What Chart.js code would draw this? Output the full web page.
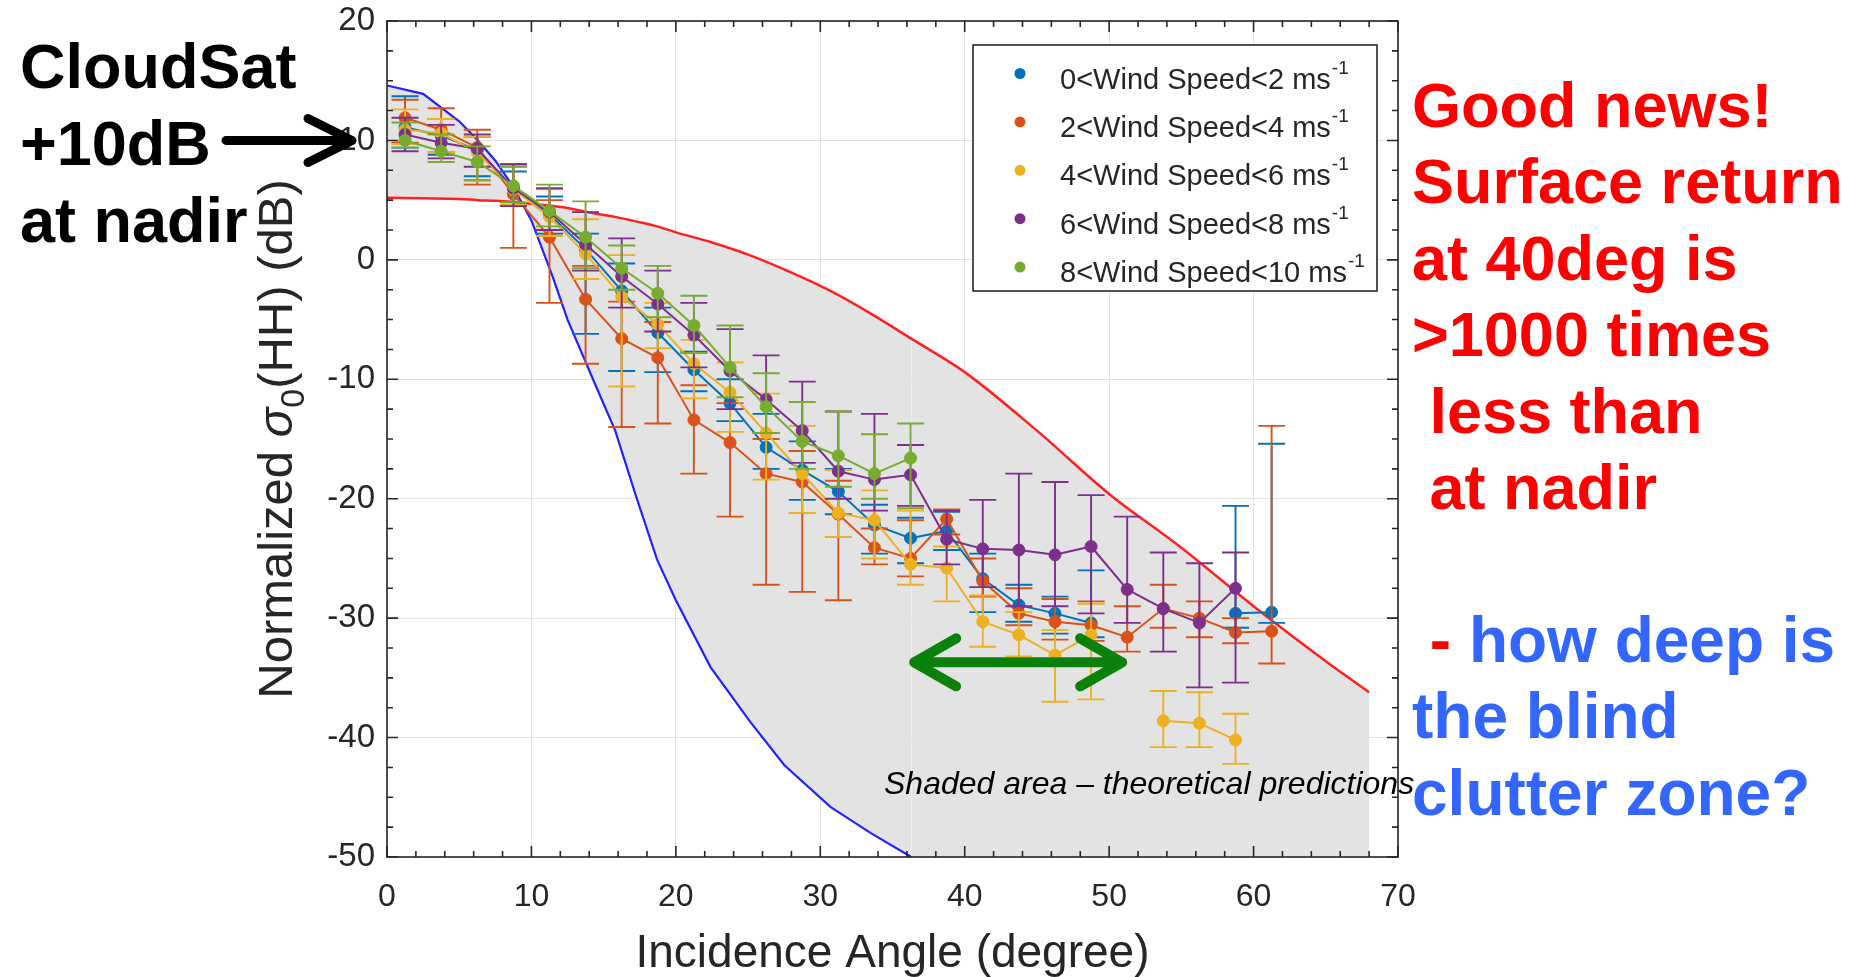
<!DOCTYPE html>
<html>
<head>
<meta charset="utf-8">
<title>Normalized sigma0 (HH) vs incidence angle</title>
<script src="https://cdn.jsdelivr.net/npm/chart.js@4.4.1/dist/chart.umd.min.js"></script>
<style>
  html, body { margin: 0; padding: 0; background: #fff; overflow: hidden; }
  canvas { display: block; }
</style>
</head>
<body>
<canvas id="sigmaChart" width="1861" height="977"></canvas>
<script>
const FONT = '"Liberation Sans", Arial, Helvetica, sans-serif';

// incidence angle bin centres (deg)
const angles = [1.25, 3.75, 6.25, 8.75, 11.25, 13.75, 16.25, 18.75, 21.25, 23.75, 26.25, 28.75,
  31.25, 33.75, 36.25, 38.75, 41.25, 43.75, 46.25, 48.75, 51.25, 53.75, 56.25, 58.75, 61.25];

// legend text (unit exponent drawn as superscript)
const seriesLabels = ['0<Wind Speed<2 ms', '2<Wind Speed<4 ms', '4<Wind Speed<6 ms',
  '6<Wind Speed<8 ms', '8<Wind Speed<10 ms'];
const unitPower = '-1';

// mean sigma0 (dB) with upper / lower error bar ends, one set per wind bin
const ws0to2 = [11.1, 10.4, 9.2, 6.0, 3.8, 0.9, -2.6, -6.1, -9.2, -12.0, -15.7, -17.6, -19.4, -22.2, -23.3, -22.7, -26.7, -28.9, -29.6, -30.4, null, null, null, -29.6, -29.5];
const ws0to2Hi = [13.7, 11.8, 10.3, 7.4, 5.3, 2.2, -0.3, -4.0, -7.7, -10.0, -12.9, -15.2, -17.5, -20.5, -21.6, -21.1, -24.6, -27.2, -28.2, -26.0, null, null, null, -20.6, -15.4];
const ws0to2Lo = [9.4, 8.8, 7.0, 4.6, 2.2, -6.2, -9.3, -9.4, -11.0, -13.5, -17.5, -20.1, -21.3, -24.6, -25.4, -24.3, -29.5, -30.3, -31.3, -31.6, null, null, null, -30.8, -30.4];

const ws2to4 = [11.9, 10.9, 9.4, 5.5, 1.9, -3.3, -6.6, -8.2, -13.4, -15.3, -17.9, -18.6, -21.3, -24.1, -25.0, -21.7, -26.9, -29.6, -30.3, -30.6, -31.6, -29.2, -30.0, -31.2, -31.1];
const ws2to4Hi = [13.4, 12.7, 10.9, 8.0, 5.0, -0.5, -3.5, -5.2, -10.5, -12.0, -15.0, -16.0, -18.5, -22.5, -21.8, -20.9, -25.0, -27.5, -28.4, -28.6, -29.0, -27.2, -28.6, -30.0, -13.9];
const ws2to4Lo = [9.8, 9.0, 6.3, 1.0, -3.6, -8.7, -14.0, -13.7, -17.9, -21.5, -27.2, -27.8, -28.5, -25.5, -26.5, -23.0, -28.2, -30.6, -31.8, -31.9, -32.8, -30.8, -31.6, -32.1, -33.8];

const ws4to6 = [10.9, 10.6, 9.0, 5.9, 3.6, 0.5, -3.1, -5.4, -8.7, -11.1, -14.5, -17.9, -21.2, -21.8, -25.5, -25.8, -30.3, -31.4, -33.1, -31.4, null, -38.6, -38.8, -40.2, null];
const ws4to6Hi = [12.6, 11.8, 10.3, 7.8, 5.9, 3.4, 0.4, -3.6, -6.7, -8.6, -11.2, -13.9, -17.6, -19.3, -21.0, -24.0, -28.1, -29.5, -31.0, -28.8, null, -36.1, -36.2, -38.0, null];
const ws4to6Lo = [9.7, 9.0, 6.6, 4.6, 2.0, -1.6, -10.6, -7.4, -11.6, -14.4, -18.4, -21.2, -23.2, -25.0, -27.2, -28.6, -32.4, -33.2, -37.0, -36.8, null, -40.8, -40.8, -42.2, null];

const ws6to8 = [10.5, 9.8, 9.3, 6.0, 4.0, 1.3, -1.4, -3.7, -6.3, -9.3, -11.7, -14.3, -17.7, -18.4, -18.0, -23.4, -24.2, -24.3, -24.7, -24.0, -27.6, -29.2, -30.4, -27.5, null];
const ws6to8Hi = [11.9, 11.3, 10.5, 8.0, 6.0, 4.0, 1.8, -0.9, -3.6, -5.8, -8.0, -10.2, -12.7, -12.9, -15.5, -21.0, -20.1, -17.9, -18.6, -19.7, -21.5, -24.5, -25.4, -24.5, null];
const ws6to8Lo = [9.1, 8.5, 7.8, 4.5, 2.5, -0.9, -4.0, -6.0, -9.0, -12.5, -14.5, -17.0, -20.0, -21.0, -20.6, -25.5, -27.4, -29.0, -29.0, -29.6, -30.4, -32.8, -35.8, -35.4, null];

const ws8to10 = [10.0, 9.1, 8.2, 6.2, 4.1, 1.9, -0.7, -2.8, -5.5, -9.0, -12.3, -15.2, -16.4, -17.9, -16.6];
const ws8to10Hi = [11.5, 10.5, 9.5, 7.8, 6.3, 4.9, 1.2, -0.5, -3.0, -5.5, -9.5, -11.9, -12.7, -14.6, -13.7];
const ws8to10Lo = [9.4, 8.2, 6.7, 4.8, 2.8, -0.7, -2.5, -4.8, -7.8, -11.5, -14.5, -17.5, -19.0, -20.0, -20.8];

// theoretical prediction envelope
const theoryAngles = [0, 2.5, 5, 6.3, 7.5, 8.7, 10, 11.5, 12.5, 14.3, 15.8, 17.3, 18.7, 20, 22.4, 25.1, 27.5, 30.7, 33.5, 36.3, 40, 45, 50, 55, 60, 65, 68];
const theoryLow = [14.6, 13.9, 11.6, 10.0, 8.3, 6.2, 3.3, -1.5, -5.0, -10.1, -14.3, -20.0, -25.1, -28.5, -34.1, -38.6, -42.3, -45.8, -48.0, -50, -50, -50, -50, -50, -50, -50, -50];
const theoryHigh = [5.2, 5.15, 5.1, 5.0, 4.95, 4.85, 4.7, 4.5, 4.35, 3.9, 3.6, 3.2, 2.8, 2.3, 1.5, 0.4, -0.8, -2.6, -4.5, -6.6, -9.4, -14.3, -19.6, -24.1, -29.0, -33.6, -36.2];

// axis ticks
const xTickValues = [0, 10, 20, 30, 40, 50, 60, 70];
const yTickValues = [-50, -40, -30, -20, -10, 0, 10, 20];
const xMinorStep = 2;
const yMinorStep = 2.5;

// text around the plot
const leftNote = ['CloudSat', '+10dB', 'at nadir'];
const goodNews = ['Good news!', 'Surface return', 'at 40deg is', '>1000 times', ' less than', ' at nadir'];
const question = ['how deep is', 'the blind', 'clutter zone?'];
const shadeNote = 'Shaded area \u2013 theoretical predictions';

const seriesColors = ['#0072BD', '#D95319', '#EDB120', '#7E2F8E', '#77AC30'];
const series = [
  { mean: ws0to2, hi: ws0to2Hi, lo: ws0to2Lo },
  { mean: ws2to4, hi: ws2to4Hi, lo: ws2to4Lo },
  { mean: ws4to6, hi: ws4to6Hi, lo: ws4to6Lo },
  { mean: ws6to8, hi: ws6to8Hi, lo: ws6to8Lo },
  { mean: ws8to10, hi: ws8to10Hi, lo: ws8to10Lo }
];

const windDatasets = series.map((s, k) => ({
  label: seriesLabels[k] + '^' + unitPower,
  data: angles.map((a, i) => ({ x: a, y: s.mean[i] ?? null })),
  errHi: s.hi,
  errLo: s.lo,
  borderColor: seriesColors[k],
  backgroundColor: seriesColors[k],
  pointBackgroundColor: seriesColors[k],
  pointBorderColor: seriesColors[k],
  borderWidth: 2,
  pointRadius: 6,
  pointBorderWidth: 1,
  tension: 0,
  fill: false,
  spanGaps: false,
  order: 5 - k   // later wind bins end up on top
}));

const lowColor = '#2222ff';

// error bars go right under each series' line and markers
const errorBars = {
  id: 'errorBars',
  beforeDatasetDraw(chart, args) {
    const ds = chart.data.datasets[args.index];
    if (!ds.errHi) return;
    const { ctx, chartArea: a, scales: { x, y } } = chart;
    ctx.save();
    ctx.beginPath();
    ctx.rect(a.left, a.top, a.width, a.height);
    ctx.clip();
    ctx.strokeStyle = ds.borderColor;
    ctx.lineWidth = 1.9;
    const cap = 13.5;
    angles.forEach((ang, i) => {
      const hi = ds.errHi[i], lo = ds.errLo[i];
      if (hi == null || lo == null) return;
      const px = x.getPixelForValue(ang);
      const pHi = y.getPixelForValue(hi), pLo = y.getPixelForValue(lo);
      ctx.beginPath();
      ctx.moveTo(px, pHi); ctx.lineTo(px, pLo);
      ctx.moveTo(px - cap, pHi); ctx.lineTo(px + cap, pHi);
      ctx.moveTo(px - cap, pLo); ctx.lineTo(px + cap, pLo);
      ctx.stroke();
    });
    ctx.restore();
  }
};

// box round the axes with inward major/minor ticks
const axesBox = {
  id: 'axesBox',
  afterDatasetsDraw(chart) {
    const { ctx, chartArea: a, scales: { x, y } } = chart;
    ctx.save();
    ctx.strokeStyle = '#262626';
    ctx.lineWidth = 1.6;
    ctx.beginPath();
    for (let v = x.min; v <= x.max + 1e-9; v += xMinorStep) {
      const p = x.getPixelForValue(v);
      const len = xTickValues.includes(v) ? 11 : 6;
      ctx.moveTo(p, a.bottom); ctx.lineTo(p, a.bottom - len);
      ctx.moveTo(p, a.top); ctx.lineTo(p, a.top + len);
    }
    for (let v = y.min; v <= y.max + 1e-9; v += yMinorStep) {
      const p = y.getPixelForValue(v);
      const len = yTickValues.includes(v) ? 11 : 6;
      ctx.moveTo(a.left, p); ctx.lineTo(a.left + len, p);
      ctx.moveTo(a.right, p); ctx.lineTo(a.right - len, p);
    }
    ctx.stroke();
    ctx.strokeRect(a.left, a.top, a.width, a.height);
    ctx.restore();
  }
};

// legend box with superscript units
const windLegend = {
  id: 'windLegend',
  afterDraw(chart) {
    const { ctx, chartArea: a } = chart;
    const boxW = 404, boxH = 246;
    const left = a.right - 21 - boxW, top = a.top + 24;
    ctx.save();
    ctx.fillStyle = '#fff';
    ctx.fillRect(left, top, boxW, boxH);
    ctx.strokeStyle = '#262626';
    ctx.lineWidth = 1.6;
    ctx.strokeRect(left, top, boxW, boxH);
    seriesLabels.forEach((txt, k) => {
      const rowY = top + 28.5 + k * 48.4;
      ctx.fillStyle = seriesColors[k];
      ctx.beginPath();
      ctx.arc(left + 47, rowY, 5.5, 0, Math.PI * 2);
      ctx.fill();
      ctx.fillStyle = '#262626';
      ctx.textBaseline = 'alphabetic';
      ctx.textAlign = 'left';
      ctx.font = `29px ${FONT}`;
      const tx = left + 87, base = rowY + 15;
      ctx.fillText(txt, tx, base);
      const w = ctx.measureText(txt).width;
      ctx.font = `19px ${FONT}`;
      ctx.fillText(unitPower, tx + w + 1, base - 15);
    });
    ctx.restore();
  }
};

// rotated y axis title with subscript
const yTitle = {
  id: 'yTitle',
  afterDraw(chart) {
    const { ctx, chartArea: a } = chart;
    const parts = [
      { t: 'Normalized ', f: `49px ${FONT}`, dy: 0 },
      { t: '\u03C3', f: `italic 49px ${FONT}`, dy: 0 },
      { t: '0', f: `34px ${FONT}`, dy: 12 },
      { t: '(HH) (dB)', f: `49px ${FONT}`, dy: 0 }
    ];
    ctx.save();
    ctx.translate(292, (a.top + a.bottom) / 2);
    ctx.rotate(-Math.PI / 2);
    ctx.fillStyle = '#262626';
    ctx.textBaseline = 'alphabetic';
    ctx.textAlign = 'left';
    let total = 0;
    parts.forEach(p => { ctx.font = p.f; p.w = ctx.measureText(p.t).width; total += p.w; });
    let cx = -total / 2;
    parts.forEach(p => { ctx.font = p.f; ctx.fillText(p.t, cx, p.dy); cx += p.w; });
    ctx.restore();
  }
};

function drawArrowHead(ctx, tipX, tipY, dir, dx, dy) {
  ctx.moveTo(tipX - dir * dx, tipY - dy);
  ctx.lineTo(tipX, tipY);
  ctx.lineTo(tipX - dir * dx, tipY + dy);
}

// slide notes, arrows and the shaded-area caption
const slideNotes = {
  id: 'slideNotes',
  afterDraw(chart) {
    const { ctx, scales: { x, y } } = chart;
    ctx.save();
    ctx.textAlign = 'left';
    ctx.textBaseline = 'alphabetic';

    ctx.font = `bold 63px ${FONT}`;
    ctx.fillStyle = '#000';
    leftNote.forEach((t, k) => ctx.fillText(t, 20, 88 + 77 * k));

    // arrow pointing at the +10 dB tick
    const ay = y.getPixelForValue(10);
    ctx.strokeStyle = '#000';
    ctx.lineWidth = 9;
    ctx.lineCap = 'round';
    ctx.lineJoin = 'round';
    ctx.beginPath();
    ctx.moveTo(226, ay);
    ctx.lineTo(350, ay);
    drawArrowHead(ctx, 352, ay, 1, 44, 22);
    ctx.stroke();

    ctx.font = `bold 63px ${FONT}`;
    ctx.fillStyle = '#ff0000';
    goodNews.forEach((t, k) => ctx.fillText(t, 1412, 127 + 76.4 * k));

    ctx.font = `bold 64px ${FONT}`;
    const qBase = 127 + 76.4 * 7;
    const sp = ctx.measureText(' ').width;
    ctx.fillStyle = '#ff0000';
    ctx.fillText('-', 1412 + sp, qBase);
    const dashW = ctx.measureText('-').width;
    ctx.fillStyle = '#3366ff';
    ctx.fillText(question[0], 1412 + sp * 2 + dashW, qBase);
    ctx.fillText(question[1], 1412, qBase + 76.4);
    ctx.fillText(question[2], 1412, qBase + 76.4 * 2);

    // double arrow across the blind zone
    const gy = y.getPixelForValue(-33.7);
    const gx0 = x.getPixelForValue(36.5), gx1 = x.getPixelForValue(50.9);
    ctx.strokeStyle = '#0b800b';
    ctx.lineWidth = 10;
    ctx.beginPath();
    ctx.moveTo(gx0, gy);
    ctx.lineTo(gx1, gy);
    drawArrowHead(ctx, gx0, gy, -1, 42, 24);
    drawArrowHead(ctx, gx1, gy, 1, 42, 24);
    ctx.stroke();

    ctx.font = `italic 32px ${FONT}`;
    ctx.fillStyle = '#000';
    ctx.fillText(shadeNote, 884, 794);
    ctx.restore();
  }
};

Chart.defaults.font.family = FONT;
Chart.defaults.color = '#262626';

const ctx = document.getElementById('sigmaChart').getContext('2d');
new Chart(ctx, {
  type: 'line',
  data: {
    datasets: [
      {
        label: 'theory lower bound',
        data: theoryAngles.map((a, i) => ({ x: a, y: theoryLow[i] })),
        borderColor: lowColor,
        borderWidth: 2.2,
        pointRadius: 0,
        tension: 0,
        fill: false,
        order: 11,
        segment: {
          // no line along the bottom axis once the curve has left the plot
          borderColor: c => (c.p0.parsed.y <= -50 && c.p1.parsed.y <= -50) ? 'rgba(0,0,0,0)' : lowColor
        }
      },
      {
        label: 'theory upper bound',
        data: theoryAngles.map((a, i) => ({ x: a, y: theoryHigh[i] })),
        borderColor: '#ff2020',
        backgroundColor: '#e3e3e3',
        borderWidth: 2.5,
        pointRadius: 0,
        cubicInterpolationMode: 'monotone',
        fill: '-1',
        order: 10
      },
      ...windDatasets
    ]
  },
  options: {
    responsive: false,
    animation: false,
    events: [],
    devicePixelRatio: 1,
    layout: { padding: { left: 0, right: 463, top: 21, bottom: 0 } },
    plugins: {
      legend: { display: false },
      tooltip: { enabled: false },
      filler: { drawTime: 'beforeDatasetsDraw' }
    },
    scales: {
      x: {
        type: 'linear',
        min: 0,
        max: 70,
        afterBuildTicks: s => { s.ticks = xTickValues.map(v => ({ value: v })); },
        afterFit: s => { s.height = 120; },
        grid: { color: '#e2e2e2', lineWidth: 1, drawTicks: false },
        border: { display: false },
        ticks: { padding: 21, color: '#262626', font: { size: 32 }, maxRotation: 0 },
        title: {
          display: true,
          text: 'Incidence Angle (degree)',
          color: '#262626',
          font: { size: 46, lineHeight: 1.0 },
          padding: 0
        }
      },
      y: {
        type: 'linear',
        min: -50,
        max: 20,
        afterBuildTicks: s => { s.ticks = yTickValues.map(v => ({ value: v })); },
        afterFit: s => { s.width = 387; },
        grid: { color: '#e2e2e2', lineWidth: 1, drawTicks: false },
        border: { display: false },
        ticks: { padding: 12, color: '#262626', font: { size: 33, lineHeight: 0.5 } }
      }
    }
  },
  plugins: [errorBars, axesBox, windLegend, yTitle, slideNotes]
});
</script>
</body>
</html>
